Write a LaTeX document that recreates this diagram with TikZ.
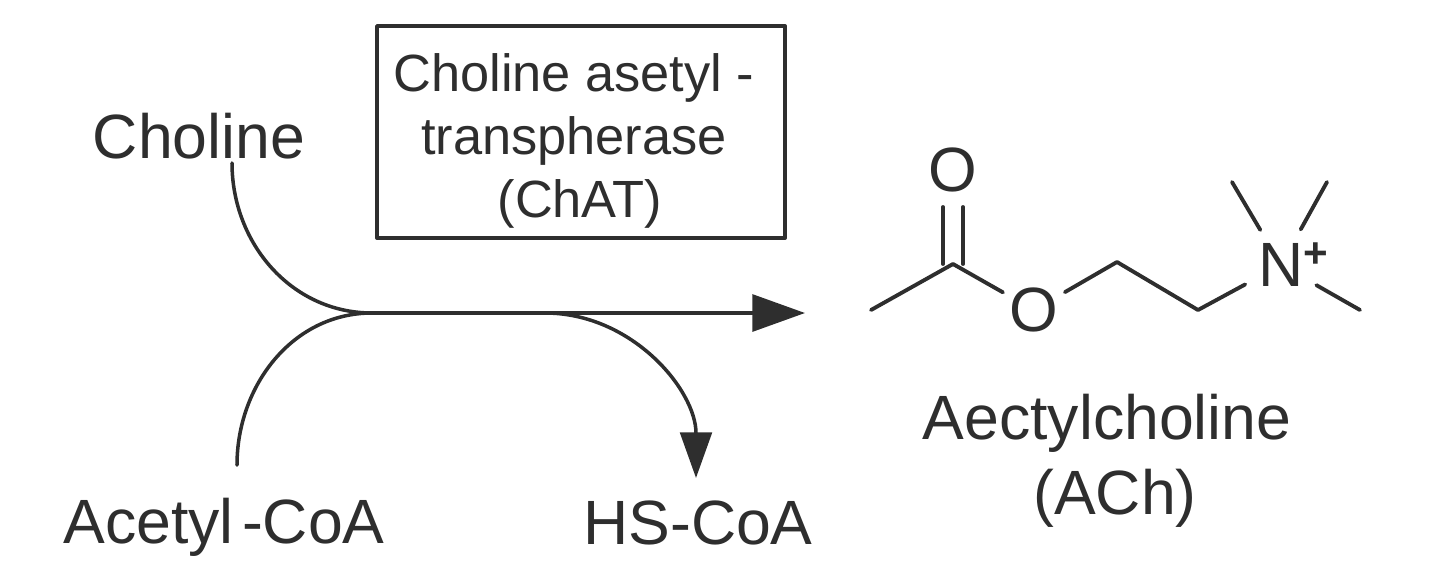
\documentclass[tikz,border=0pt]{standalone}
\usepackage{fontspec}
\setmainfont{Liberation Sans}
\usetikzlibrary{arrows.meta}
\definecolor{inkgray}{HTML}{2E2E2E}
\tikzset{
  bond/.style={line width=1.1pt},
  flow/.style={line width=1pt},
  bigtip/.style={-{Triangle[length=15pt,width=10.5pt]}},
  smalltip/.style={-{Triangle[length=13pt,width=9pt]}},
  label/.style={font=\fontsize{17.8}{21.3}\selectfont, inner sep=0pt, align=center},
  atom/.style={circle, font=\fontsize{17.8}{21.3}\selectfont, inner sep=0pt}
}
\begin{document}
\begin{tikzpicture}[color=inkgray, line cap=round, line join=round]
  \useasboundingbox (0,0) rectangle (14.4,5.82);

  \coordinate (J)  at (3.72,2.69);
  \coordinate (P)  at (8.05,2.69);
  \coordinate (S)  at (5.45,2.69);
  \coordinate (H)  at (6.96,1.04);
  \coordinate (Ca) at (2.32,4.19);
  \coordinate (Aa) at (2.37,1.17);

  \coordinate (Me) at (8.71,2.72);
  \coordinate (C)  at (9.53,3.18);
  \coordinate (Oa) at (9.43,3.75);
  \coordinate (Ob) at (9.63,3.75);
  \coordinate (C1) at (11.17,3.20);
  \coordinate (C2) at (11.98,2.72);
  \coordinate (M1) at (12.32,4.00);
  \coordinate (M2) at (13.27,4.00);
  \coordinate (M3) at (13.60,2.72);

  \node[label] (choline) at (1.99,4.46) {Choline};
  \node[label] (acetyl) at (2.24,0.55) {Acetyl\hspace{-.09cm} -CoA};
  \node[label] (hscoa) at (6.98,0.59) {HS-CoA};
  \node[draw, line width=1.1pt, minimum width=4.08cm, minimum height=2.12cm, inner sep=0pt] (chat) at (5.81,4.50) {};
  \node[font=\fontsize{14.9}{17.9}\selectfont, inner sep=0pt, align=center] (chattext) at (5.74,4.41)
        {Choline asetyl -\\transpherase\\\hspace*{.12cm}(ChAT)};
  \node[label] (ach) at (11.07,1.21) {Aectylcholine\\[.2pt]\hspace*{.16cm}(ACh)};

  \node[atom] (Ocarb) at (9.53,4.12) {O};
  \node[atom, minimum size=.7cm] (Oest) at (10.34,2.72) {O};
  \node[atom, minimum size=.8cm] (N) at (12.81,3.17) {N};
  \node[font=\bfseries\fontsize{12}{12}\selectfont, inner sep=0pt] (plus) at (13.16,3.27) {+};

  \draw[flow] (Ca) to[out=-90, in=180] (J);
  \draw[flow] (Aa) to[out=90, in=180] (J);
  \draw[flow, bigtip] (J) -- (P);
  \draw[flow, smalltip] (S) to[out=0, in=90] (H);

  \draw[bond] (Me)--(C);
  \draw[bond] (C -| Oa)--(Oa) (C -| Ob)--(Ob);
  \draw[bond] (C)--(Oest);
  \draw[bond] (Oest)--(C1)--(C2)--(N);
  \draw[bond] (M1)--(N);
  \draw[bond] (M2)--(N);
  \draw[bond] (M3)--(N);
\end{tikzpicture}
\end{document}
